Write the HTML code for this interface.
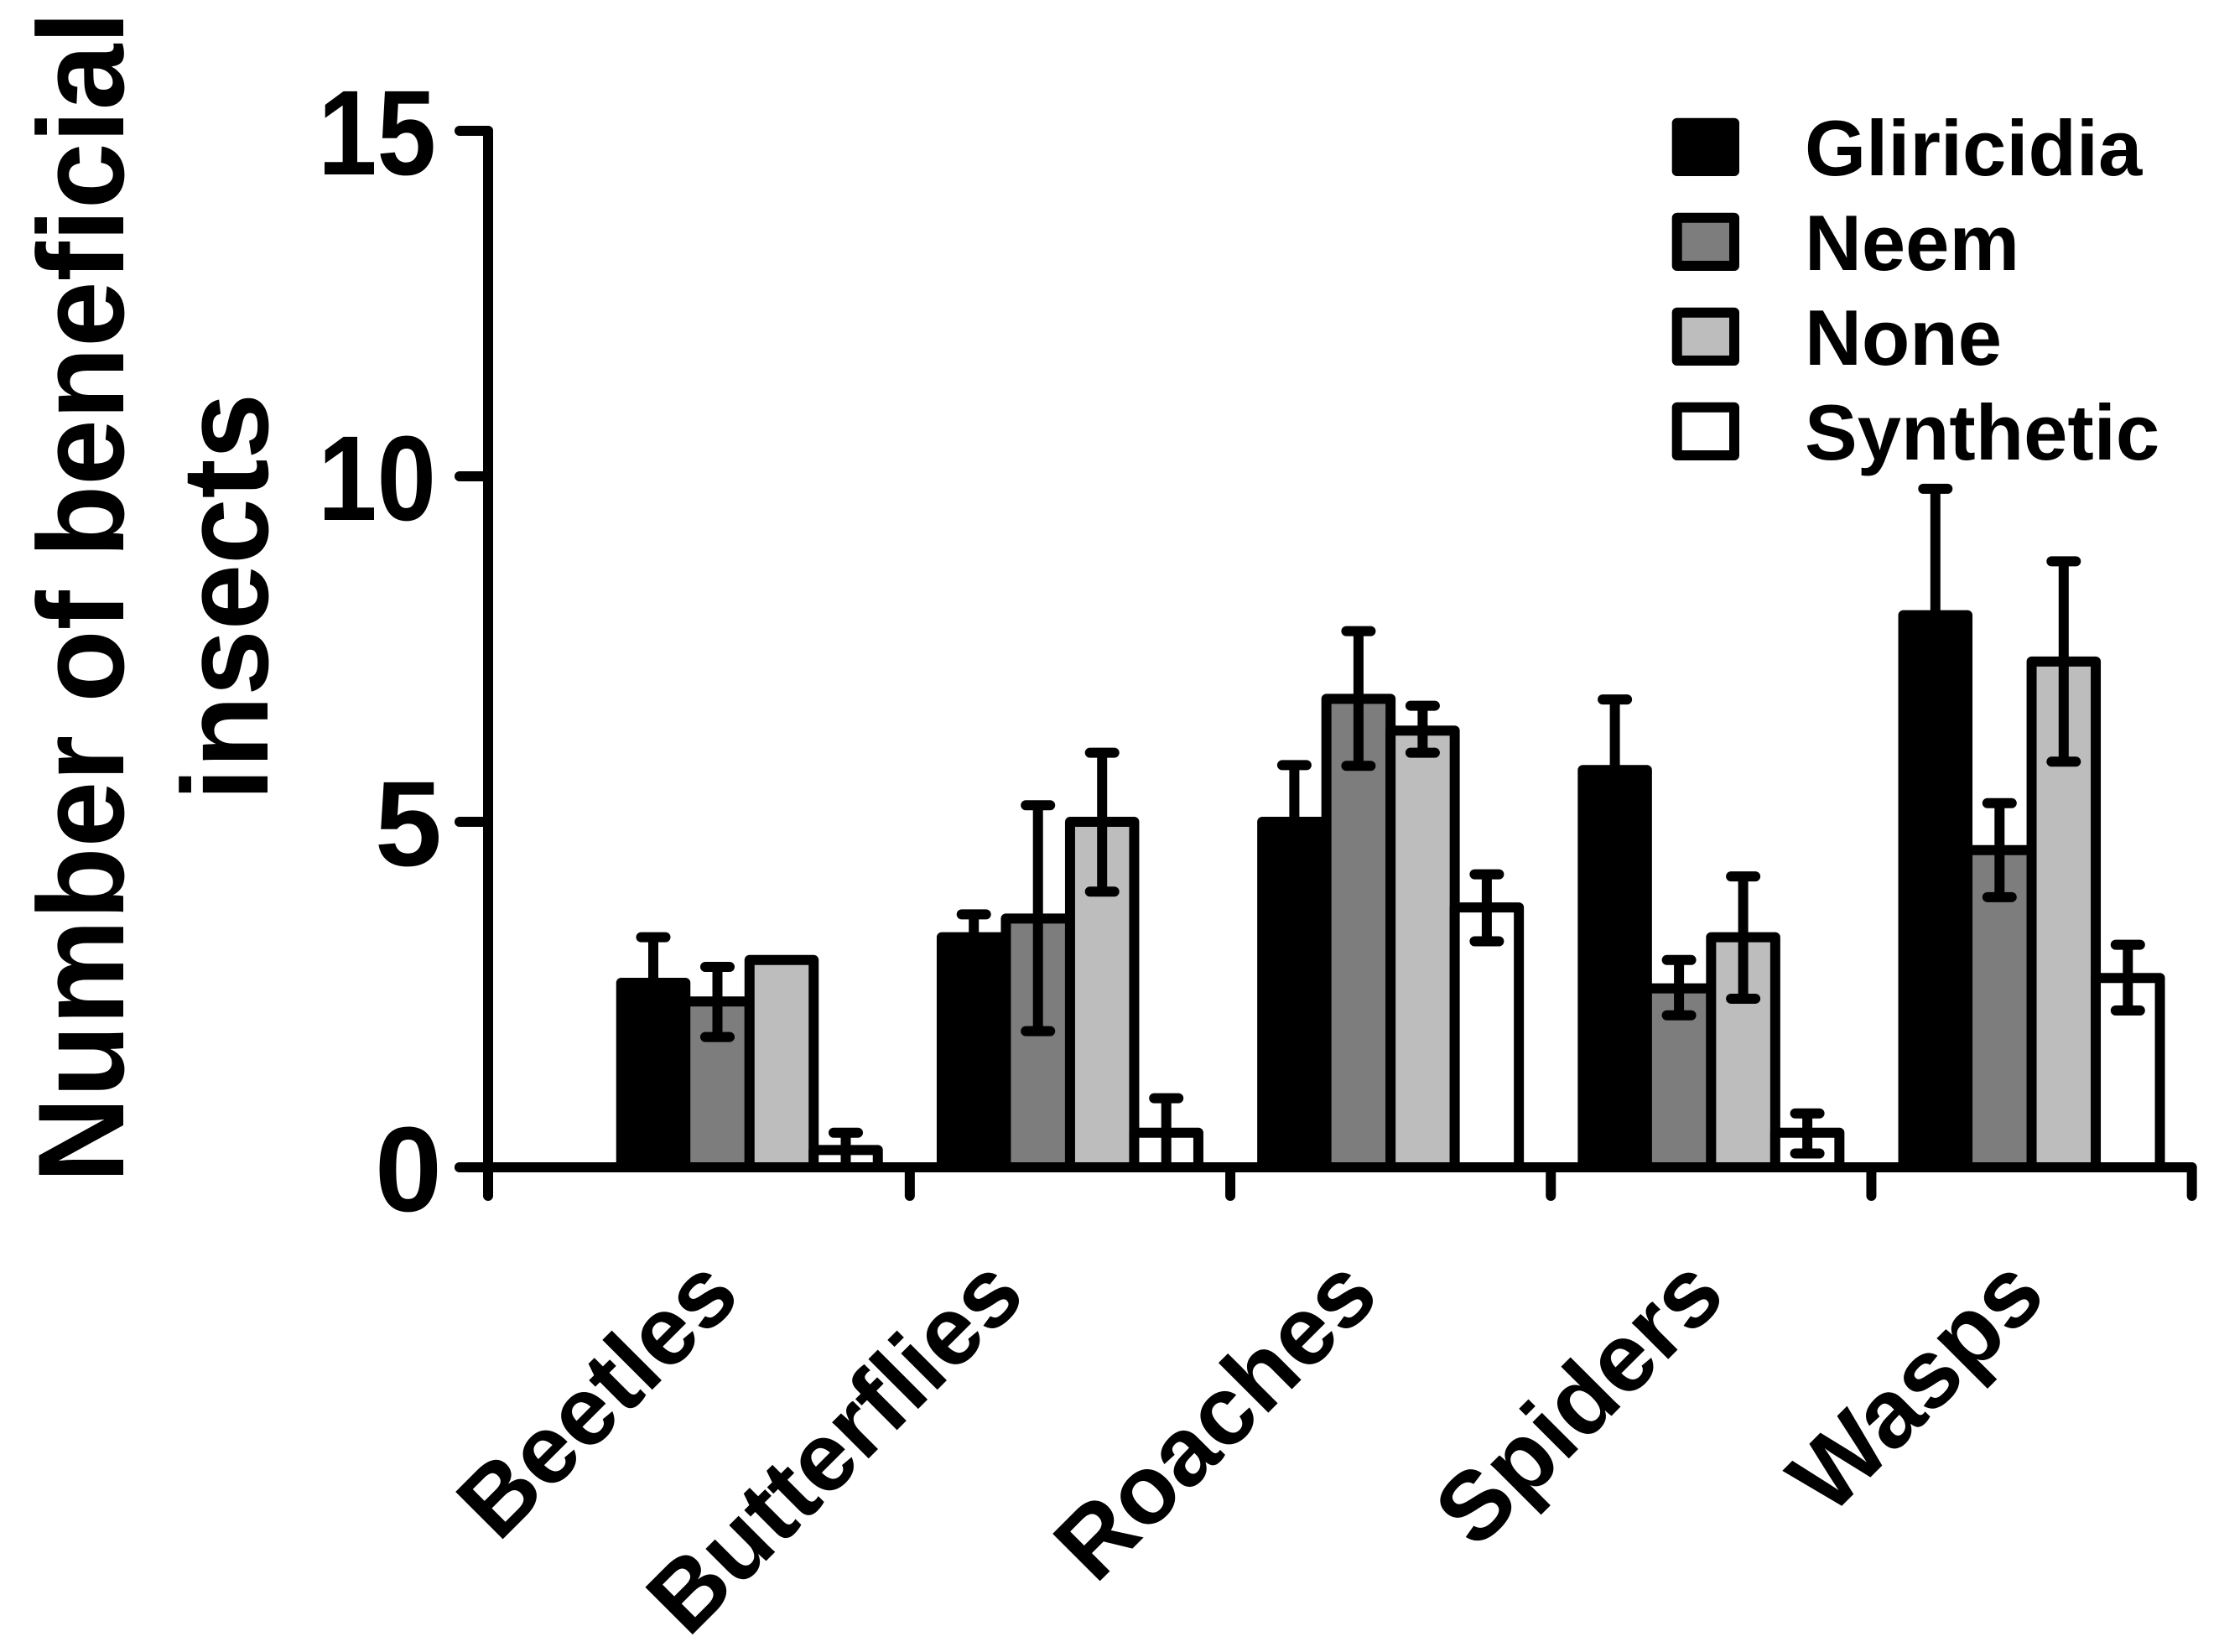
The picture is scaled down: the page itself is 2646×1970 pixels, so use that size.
<!DOCTYPE html>
<html lang="en">
<head>
<meta charset="utf-8">
<title>Number of beneficial insects</title>
<style>
html,body{margin:0;padding:0;background:#fff;width:2646px;height:1970px;overflow:hidden}
svg{display:block}
text{font-family:"Liberation Sans",Arial,sans-serif;font-weight:700;fill:#000;font-variant-ligatures:none}
</style>
</head>
<body>
<svg id="chart" xmlns="http://www.w3.org/2000/svg" width="2646" height="1970" viewBox="0 0 2646 1970">
  <rect x="0" y="0" width="2646" height="1970" fill="#fff"/>
  <g font-size="146">
    <text transform="translate(147 712) rotate(-90)" text-anchor="middle" textLength="1397" lengthAdjust="spacingAndGlyphs">Number of beneficial</text>
    <text transform="translate(319 712) rotate(-90)" text-anchor="middle" textLength="486" lengthAdjust="spacingAndGlyphs">insects</text>
  </g>
  <g id="bars"></g>
  <g id="errors"></g>
  <g id="axes"></g>
  <g id="legend"></g>
</svg>
<script>
const categories = ["Beetles", "Butterflies", "Roaches", "Spiders", "Wasps"];
const seriesNames = ["Gliricidia", "Neem", "None", "Synthetic"];
const seriesFills = ["#000000", "#7d7d7d", "#bdbdbd", "#ffffff"];

const gliricidiaValues = [2.67, 3.33, 5.0, 5.75, 7.99];
const gliricidiaHigh = [3.33, 3.66, 5.82, 6.77, 9.82];
const gliricidiaLow = [2.0, 3.0, 4.16, 4.73, 6.16];

const neemValues = [2.4, 3.6, 6.78, 2.59, 4.59];
const neemHigh = [2.9, 5.24, 7.76, 3.0, 5.27];
const neemLow = [1.885, 1.97, 5.81, 2.2, 3.91];

const noneValues = [3.0, 5.0, 6.32, 3.33, 7.32];
const noneHigh = [3.0, 6.0, 6.68, 4.21, 8.77];
const noneLow = [3.0, 3.99, 6.0, 2.44, 5.87];

const syntheticValues = [0.25, 0.5, 3.76, 0.5, 2.74];
const syntheticHigh = [0.5, 1.0, 4.24, 0.78, 3.22];
const syntheticLow = [0.0, 0.0, 3.27, 0.2, 2.27];

const yTicks = [0, 5, 10, 15];

const valueSeries = [gliricidiaValues, neemValues, noneValues, syntheticValues];
const highSeries = [gliricidiaHigh, neemHigh, noneHigh, syntheticHigh];
const lowSeries = [gliricidiaLow, neemLow, noneLow, syntheticLow];

const NS = "http://www.w3.org/2000/svg";
const STROKE = 12;
const Y_ZERO = 1392, Y_UNIT = 82.4;
const BAR_STEP = 76.5, GROUP_STEP = 382.2, FIRST_CENTER = 779;
const AXIS_X = 582, AXIS_RIGHT = 2613;

function yScale(v) { return Y_ZERO - v * Y_UNIT; }
function barCenter(groupIndex, seriesIndex) {
  return FIRST_CENTER + groupIndex * GROUP_STEP + seriesIndex * BAR_STEP;
}
function groupEdge(groupIndex) {
  return barCenter(groupIndex, 1.5) + GROUP_STEP / 2;
}
function slug(s) { return s.toLowerCase().replace(/\s+/g, "-"); }
function mk(parent, tag, attrs) {
  const el = document.createElementNS(NS, tag);
  for (const k in attrs) el.setAttribute(k, attrs[k]);
  parent.appendChild(el);
  return el;
}
const lineStyle = { stroke: "#000", "stroke-width": STROKE, "stroke-linecap": "round" };

const barsG = document.getElementById("bars");
const errG = document.getElementById("errors");
const axesG = document.getElementById("axes");

categories.forEach(function (cat, g) {
  seriesNames.forEach(function (ser, s) {
    const cx = barCenter(g, s);
    const top = yScale(valueSeries[s][g]);
    const bar = mk(barsG, "rect", {
      x: cx - BAR_STEP / 2, y: top, width: BAR_STEP, height: Y_ZERO - top,
      fill: seriesFills[s], stroke: "#000", "stroke-width": STROKE, "stroke-linejoin": "round"
    });
    
    

    const hi = yScale(highSeries[s][g]);
    const lo = yScale(lowSeries[s][g]);
    if (hi !== lo) {
      const group = mk(errG, "g", lineStyle);
      
      
      mk(group, "line", { x1: cx, x2: cx, y1: hi, y2: lo, "stroke-linecap": "butt" });
      mk(group, "line", { x1: cx - 14.5, x2: cx + 14.5, y1: hi, y2: hi });
      mk(group, "line", { x1: cx - 14.5, x2: cx + 14.5, y1: lo, y2: lo });
    }
  });
});

const yAxis = mk(axesG, "line", Object.assign({ x1: AXIS_X, x2: AXIS_X, y1: yScale(15), y2: Y_ZERO + 34 }, lineStyle));



const xAxis = mk(axesG, "line", Object.assign({ x1: AXIS_X - 34, x2: AXIS_RIGHT, y1: Y_ZERO, y2: Y_ZERO }, lineStyle));



yTicks.forEach(function (t) {
  const y = yScale(t);
  const tick = mk(axesG, "line", Object.assign({ x1: AXIS_X - 34, x2: AXIS_X, y1: y, y2: y }, lineStyle));
  
  
  const twoDigit = String(t).length > 1;
  const label = mk(axesG, "text", {
    transform: twoDigit
      ? "translate(520 " + (y + 52) + ") scale(0.88 1)"
      : "translate(527 " + (y + 52) + ")",
    "text-anchor": "end", "font-size": 144
  });
  label.textContent = String(t);
  
  
});

const labelEndX = [886, 1226, 1648, 2061, 2443];
categories.forEach(function (cat, g) {
  const x = groupEdge(g);
  const tick = mk(axesG, "line", Object.assign({ x1: x, x2: x, y1: Y_ZERO, y2: Y_ZERO + 34 }, lineStyle));
  
  
  const label = mk(axesG, "text", {
    transform: "translate(" + labelEndX[g] + " 1549) rotate(-45)",
    "text-anchor": "end", "font-size": 116
  });
  label.textContent = cat;
  
  
});

const legendG = document.getElementById("legend");
seriesNames.forEach(function (ser, s) {
  const top = 141 + s * 113;
  const entry = mk(legendG, "g", {});
  
  
  const swatch = mk(entry, "rect", {
    x: 1999.7, y: top + 5.7, width: 68.3, height: 57.3,
    fill: seriesFills[s], stroke: "#000", "stroke-width": STROKE, "stroke-linejoin": "round"
  });
  
  
  const label = mk(entry, "text", { x: 2152, y: top + 68, "font-size": 94 });
  label.textContent = ser;
  
  
});
</script>
</body>
</html>
